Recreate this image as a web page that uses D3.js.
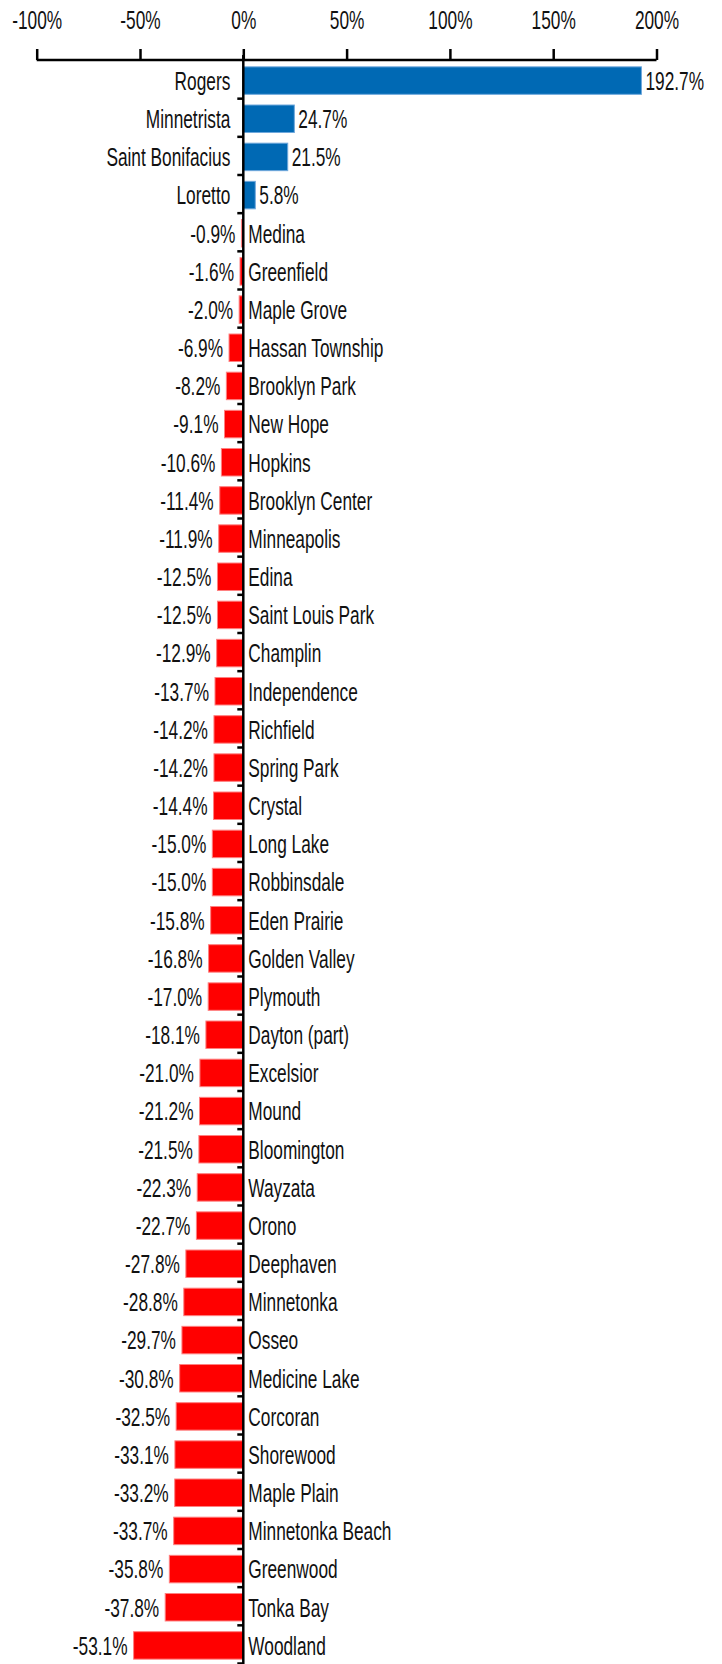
<!DOCTYPE html>
<html>
<head>
<meta charset="utf-8">
<script src="https://cdn.jsdelivr.net/npm/d3@7"></script>
<style>
  html, body { margin: 0; padding: 0; background: #fff; }
  svg text { font-family: "Liberation Sans", Arial, sans-serif; font-size: 26px; fill: #111; }
</style>
</head>
<body>
<svg id="chart" width="722" height="1664"></svg>
<script>
const categories = ["Rogers","Minnetrista","Saint Bonifacius","Loretto","Medina","Greenfield","Maple Grove","Hassan Township","Brooklyn Park","New Hope","Hopkins","Brooklyn Center","Minneapolis","Edina","Saint Louis Park","Champlin","Independence","Richfield","Spring Park","Crystal","Long Lake","Robbinsdale","Eden Prairie","Golden Valley","Plymouth","Dayton (part)","Excelsior","Mound","Bloomington","Wayzata","Orono","Deephaven","Minnetonka","Osseo","Medicine Lake","Corcoran","Shorewood","Maple Plain","Minnetonka Beach","Greenwood","Tonka Bay","Woodland"];
const values = [192.7,24.7,21.5,5.8,-0.9,-1.6,-2.0,-6.9,-8.2,-9.1,-10.6,-11.4,-11.9,-12.5,-12.5,-12.9,-13.7,-14.2,-14.2,-14.4,-15.0,-15.0,-15.8,-16.8,-17.0,-18.1,-21.0,-21.2,-21.5,-22.3,-22.7,-27.8,-28.8,-29.7,-30.8,-32.5,-33.1,-33.2,-33.7,-35.8,-37.8,-53.1];
const tickValues = [-100,-50,0,50,100,150,200];

const data = categories.map((c, i) => ({ name: c, value: values[i] }));
const NARROW = 0.665;

const svg = d3.select("#chart");
const x = d3.scaleLinear().domain([-100, 200]).range([36.7, 656.5]);
const y = d3.scaleBand().domain(categories).range([61.5, 1664.5]).paddingInner(0.28).paddingOuter(0.14);
const x0 = x(0);
const step = y.step();

// bars
svg.append("g").selectAll("rect").data(data).join("rect")
  .attr("x", d => Math.min(x(d.value), x0))
  .attr("y", d => y(d.name))
  .attr("width", d => Math.abs(x(d.value) - x0))
  .attr("height", y.bandwidth())
  .attr("fill", d => d.value >= 0 ? "#0069b4" : "#ff0000")
  .attr("stroke", d => d.value >= 0 ? "#6fa8dc" : "#ff8080")
  .attr("stroke-width", 1);

// top axis
const axisTop = d3.axisTop(x).tickValues(tickValues).tickSize(11).tickPadding(20)
  .tickFormat(d => d + "%");
const ga = svg.append("g").attr("transform", "translate(0,60)").call(axisTop);
ga.select(".domain").attr("stroke", "#000").attr("stroke-width", 2.5)
  .attr("d", `M${x(-100)},0H${x(200)}`);
ga.selectAll(".tick line").attr("stroke", "#000").attr("stroke-width", 2.5);
ga.selectAll(".tick text").attr("font-size", 26).attr("font-family", null)
  .attr("transform", `scale(${NARROW},1)`).style("fill", "#111");

// vertical zero axis with band-boundary ticks
const gz = svg.append("g");
gz.append("line").attr("x1", x0).attr("x2", x0).attr("y1", 55).attr("y2", 1664)
  .attr("stroke", "#000").attr("stroke-width", 2.5);
const boundaries = d3.range(categories.length + 1).map(i => y.range()[0] + i * step);
gz.selectAll("line.bt").data(boundaries.slice(1)).join("line")
  .attr("class", "bt")
  .attr("x1", x0 - 6).attr("x2", x0)
  .attr("y1", d => d - 1).attr("y2", d => d - 1)
  .attr("stroke", "#000").attr("stroke-width", 2.5);

// labels
const lab = svg.append("g");
data.forEach(d => {
  const cy = y(d.name) + y.bandwidth() / 2;
  const pos = d.value >= 0;
  lab.append("text")
    .attr("transform", `translate(${pos ? x0 - 13 : x0 + 5},${cy}) scale(${NARROW},1)`)
    .attr("dy", "0.36em")
    .attr("text-anchor", pos ? "end" : "start")
    .text(d.name);
  lab.append("text")
    .attr("transform", `translate(${pos ? x(d.value) + 4 : x(d.value) - 6},${cy}) scale(${NARROW},1)`)
    .attr("dy", "0.36em")
    .attr("text-anchor", pos ? "start" : "end")
    .text(d.value.toFixed(1) + "%");
});
</script>
</body>
</html>
